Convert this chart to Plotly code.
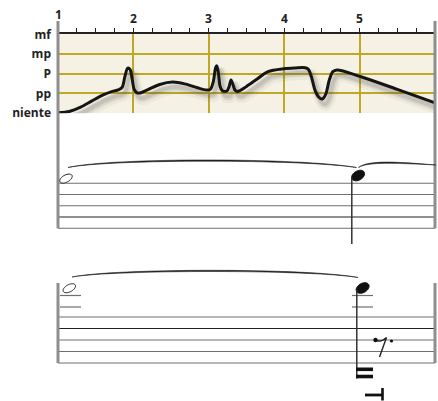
import numpy as np
import plotly.graph_objects as go

# ---------------- data ----------------
measures = [1, 2, 3, 4, 5]
dyn_levels = [0, 1, 2, 3, 4]
dyn_labels = ["niente", "pp", "P", "mp", "mf"]

# dynamics curve (x in measures, y in dynamic level: niente=0 ... mf=4)
curve_x = [1.00, 1.15, 1.30, 1.45, 1.60, 1.72, 1.80, 1.85, 1.89, 1.925, 1.955,
           1.985, 2.01, 2.05, 2.10, 2.20, 2.35, 2.52, 2.68, 2.85, 2.97, 3.02,
           3.06, 3.09, 3.105, 3.125, 3.15, 3.18, 3.24, 3.27, 3.295, 3.32, 3.35,
           3.39, 3.50, 3.65, 3.785, 4.00, 4.15, 4.28, 4.32, 4.36, 4.41, 4.46,
           4.505, 4.55, 4.60, 4.645, 4.70, 5.00, 5.50, 6.00]
curve_y = [0.02, 0.08, 0.30, 0.62, 0.92, 1.10, 1.18, 1.30, 1.90, 2.28, 2.22,
           1.70, 1.20, 1.02, 1.03, 1.20, 1.45, 1.57, 1.48, 1.28, 1.17, 1.20,
           1.60, 2.30, 2.40, 2.10, 1.35, 1.13, 1.12, 1.35, 1.68, 1.45, 1.15,
           1.10, 1.35, 1.75, 2.10, 2.25, 2.29, 2.30, 2.22, 1.85, 1.15, 0.80,
           0.71, 0.95, 1.70, 2.10, 2.19, 1.87, 1.20, 0.52]

# notation (x in measures, y in staff steps: 0 = bottom line, 1 = one line spacing)
sys1_note_x = [1.106, 4.98]
sys1_note_y = [4.42, 4.69]
sys1_note_filled = [False, True]
sys2_note_x = [1.15, 5.04]
sys2_note_y = [6.5, 6.52]
sys2_note_filled = [False, True]

# ---------------- geometry ----------------
W, H = 438, 401
XL = 58.0          # px of measure 1
MW = 75.4          # px per measure
S1_BOT, S1_SP = 228.3, 11.25   # system 1 bottom line px, spacing
S2_BOT, S2_SP = 363.0, 11.5    # system 2
DYN_TOP, DYN_BOT = 34.3, 113.3

def px2m(p):
    return 1 + (p - XL) / MW

def py2s1(p):
    return (S1_BOT - p) / S1_SP

def py2s2(p):
    return (S2_BOT - p) / S2_SP

OLIVE = "#c0a827"
BEIGE = "#f5f2e5"
STAFF = "#6f6f6f"
BAR = "#8e8e8e"

fig = go.Figure()

# shadow of curve
cx = np.array(curve_x)
cy = np.array(curve_y)
for w, op, dx, dy in [(11, 0.06, 4, 6.5), (7, 0.10, 3.5, 5.5), (4, 0.12, 3, 5)]:
    fig.add_trace(go.Scatter(
        x=cx + dx / MW, y=cy - dy / ((DYN_BOT - DYN_TOP) / 4),
        mode="lines", line=dict(color=f"rgba(60,60,60,{op})", width=w,
                                shape="spline", smoothing=0.9),
        xaxis="x2", yaxis="y", hoverinfo="skip", showlegend=False))

fig.add_trace(go.Scatter(
    x=curve_x, y=curve_y, mode="lines",
    line=dict(color="#151515", width=3, shape="spline", smoothing=0.9),
    xaxis="x2", yaxis="y", showlegend=False))

shapes = []
# background of dynamics panel
shapes.append(dict(type="rect", xref="x2", yref="y", x0=1, x1=6, y0=0, y1=4,
                   fillcolor=BEIGE, line=dict(width=0), layer="below"))

# staff lines
for i in range(5):
    col = "#222" if i == 1 else STAFF
    shapes.append(dict(type="line", xref="x", yref="y2", x0=1, x1=6, y0=i, y1=i,
                       line=dict(color=col, width=1.1)))
    col2 = "#222" if i == 3 else STAFF
    shapes.append(dict(type="line", xref="x", yref="y3", x0=1, x1=6, y0=i, y1=i,
                       line=dict(color=col2, width=1.1)))

# bar lines
for xx in [1, 6]:
    shapes.append(dict(type="line", xref="x", yref="y2", x0=xx, x1=xx,
                       y0=0, y1=py2s1(21), line=dict(color=BAR, width=3)))
    shapes.append(dict(type="line", xref="x", yref="y3", x0=xx, x1=xx,
                       y0=0, y1=py2s2(283), line=dict(color=BAR, width=3)))

# ledger lines system 2
for lx in [(px2m(60), px2m(81)), (px2m(352), px2m(373))]:
    for ly in [py2s2(307), py2s2(295.5)]:
        shapes.append(dict(type="line", xref="x", yref="y3", x0=lx[0], x1=lx[1],
                           y0=ly, y1=ly, line=dict(color=STAFF, width=1.2)))


def ellipse_path(xc, yc, sp, a=6.5, b=4.0, ang=30):
    t = np.linspace(0, 2 * np.pi, 40)
    th = np.radians(ang)
    dx = a * np.cos(t) * np.cos(th) - b * np.sin(t) * np.sin(th)
    dy = a * np.cos(t) * np.sin(th) + b * np.sin(t) * np.cos(th)
    xs = xc + dx / MW
    ys = yc + dy / sp
    return "M " + " L ".join(f"{x:.5f},{y:.5f}" for x, y in zip(xs, ys)) + " Z"


def note_shapes(xs, ys, filled, yref, sp):
    out = []
    for x, y, f in zip(xs, ys, filled):
        if f:
            out.append(dict(type="path", xref="x", yref=yref,
                            path=ellipse_path(x, y, sp, 7, 4.6, 30),
                            fillcolor="#111", line=dict(color="#111", width=1)))
        else:
            out.append(dict(type="path", xref="x", yref=yref,
                            path=ellipse_path(x, y, sp, 6.8, 3.6, 28),
                            fillcolor="white", line=dict(color="#222", width=1)))
    return out

shapes += note_shapes(sys1_note_x, sys1_note_y, sys1_note_filled, "y2", S1_SP)
shapes += note_shapes(sys2_note_x, sys2_note_y, sys2_note_filled, "y3", S2_SP)

# stems
shapes.append(dict(type="line", xref="x", yref="y2", x0=px2m(351.8), x1=px2m(351.8),
                   y0=sys1_note_y[1] - 0.2, y1=py2s1(244), line=dict(color="#333", width=1.5)))
shapes.append(dict(type="line", xref="x", yref="y3", x0=px2m(356.8), x1=px2m(356.8),
                   y0=sys2_note_y[1] - 0.2, y1=py2s2(378.5), line=dict(color="#333", width=1.5)))
# tremolo bars
for by in [369.3, 376.5]:
    shapes.append(dict(type="line", xref="x", yref="y3", x0=px2m(356), x1=px2m(373),
                       y0=py2s2(by), y1=py2s2(by), line=dict(color="#111", width=3.6)))
# ⊣ mark
shapes.append(dict(type="line", xref="x", yref="y3", x0=px2m(365), x1=px2m(383),
                   y0=py2s2(395), y1=py2s2(395), line=dict(color="#111", width=2.8)))
shapes.append(dict(type="line", xref="x", yref="y3", x0=px2m(382.5), x1=px2m(382.5),
                   y0=py2s2(388), y1=py2s2(400.5), line=dict(color="#111", width=2.6)))
# eighth rest with dot
shapes.append(dict(type="path", xref="x", yref="y3",
                   path=f"M {px2m(375)},{py2s2(340)} Q {px2m(381)},{py2s2(343)} {px2m(386.5)},{py2s2(337.5)} L {px2m(379.5)},{py2s2(357)}",
                   line=dict(color="#222", width=1.4)))
for (dxp, dyp, r) in [(375.5, 340, 2.2), (391.5, 341, 1.6)]:
    shapes.append(dict(type="circle", xref="x", yref="y3",
                       x0=px2m(dxp - r), x1=px2m(dxp + r),
                       y0=py2s2(dyp + r), y1=py2s2(dyp - r),
                       fillcolor="#111", line=dict(width=0)))


# slurs (tapered cubic curves)
def slur(x0, y0, x1, y1, c1, c2, yref, conv, thick=1.6):
    (c1x, c1y), (c2x, c2y) = c1, c2
    p = (f"M {px2m(x0)},{conv(y0)} C {px2m(c1x)},{conv(c1y)} {px2m(c2x)},{conv(c2y)} {px2m(x1)},{conv(y1)} "
         f"C {px2m(c2x)},{conv(c2y + thick)} {px2m(c1x)},{conv(c1y + thick)} {px2m(x0)},{conv(y0)} Z")
    return dict(type="path", xref="x", yref=yref, path=p, fillcolor="#222",
                line=dict(color="#222", width=0.6))

shapes.append(slur(68, 167.5, 356.5, 167.5, (110, 157.5), (300, 157.5), "y2", py2s1))
shapes.append(slur(358.5, 167.5, 436, 165, (368, 160), (395, 161.5), "y2", py2s1))
shapes.append(slur(72, 277, 358, 277.5, (115, 268), (310, 268), "y3", py2s2))

fig.update_layout(shapes=shapes)

# measure numbers
ann = []
for m in measures:
    py = 14.5 if m == 1 else 18.5
    ann.append(dict(x=m, y=1 - py / H, xref="x2", yref="paper",
                    text=f"<b>{m}</b>", showarrow=False, xanchor="center", yanchor="middle",
                    font=dict(family="Open Sans", size=12, color="#222")))
fig.update_layout(annotations=ann)

fig.update_layout(
    template="none",
    width=W, height=H, autosize=False,
    margin=dict(l=0, r=0, t=0, b=0, pad=0),
    paper_bgcolor="white", plot_bgcolor="rgba(0,0,0,0)",
    xaxis=dict(domain=[0, 1], range=[px2m(0), px2m(W)], visible=False, automargin=False),
    xaxis2=dict(domain=[XL / W, 435 / W], range=[1, 6], anchor="y", side="top",
                automargin=False,
                showline=True, linecolor="#222", linewidth=1.6,
                ticks="outside", ticklen=5, tickwidth=1, tickcolor="#222",
                tick0=1, dtick=1, showticklabels=False, showgrid=True,
                gridcolor=OLIVE, gridwidth=1.5, zeroline=False,
                minor=dict(dtick=0.25, tick0=1, ticks="outside", ticklen=5,
                           tickwidth=1, tickcolor="#222", showgrid=False)),
    yaxis=dict(domain=[1 - DYN_BOT / H, 1 - DYN_TOP / H], range=[-0.015, 4],
               anchor="x2", automargin=False,
               tickvals=dyn_levels, ticktext=[f"<b>{t}</b>" for t in dyn_labels],
               ticks="", ticklabelstandoff=6, showgrid=True, gridcolor=OLIVE,
               gridwidth=1.5, zeroline=False, showline=False,
               tickfont=dict(family="Open Sans", size=12, color="#222")),
    yaxis2=dict(domain=[0, 1], range=[py2s1(H), py2s1(0)], anchor="x", automargin=False,
                visible=False, showgrid=False, zeroline=False),
    yaxis3=dict(domain=[0, 1], range=[py2s2(H), py2s2(0)], anchor="x", automargin=False,
                visible=False, showgrid=False, zeroline=False),
)

fig.write_html("out.html", config={"displayModeBar": False},
               post_script="document.body.style.margin='0';")
